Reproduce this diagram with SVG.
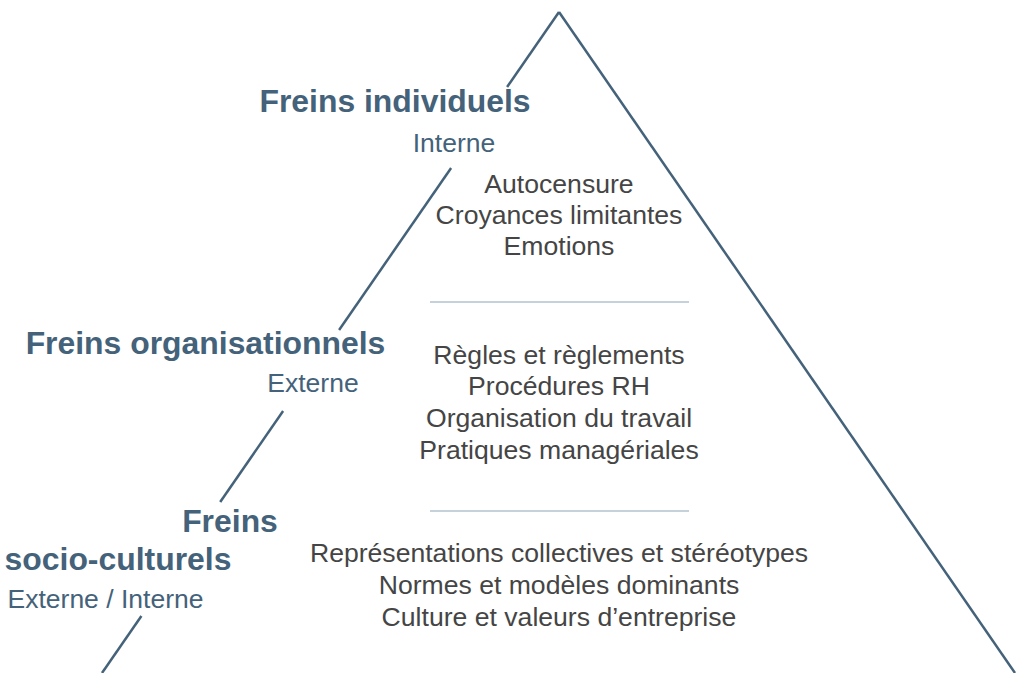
<svg xmlns="http://www.w3.org/2000/svg" width="1016" height="673" viewBox="0 0 1016 673">
<style>
.edge{stroke:#44627a;stroke-width:2.5;fill:none;stroke-linecap:butt}
.div{stroke:#b3c3cf;stroke-width:1.6}
.title{font-family:"Liberation Sans",Arial,sans-serif;font-weight:bold;font-size:31.9px;fill:#44627a}
.sub{font-family:"Liberation Sans",Arial,sans-serif;font-size:26.5px;fill:#44627a}
.item{font-family:"Liberation Sans",Arial,sans-serif;font-size:26.6px;fill:#454545;text-anchor:middle}
</style>
<rect width="1016" height="673" fill="#ffffff"/>
<g id="connectors">
<line class="edge" x1="559" y1="12" x2="1015" y2="673"/>
<line class="edge" x1="559" y1="12" x2="507.1" y2="87"/>
<line class="edge" x1="451.1" y1="168" x2="339.1" y2="330"/>
<line class="edge" x1="283.1" y1="411" x2="220.2" y2="502"/>
<line class="edge" x1="141.4" y1="616" x2="102" y2="673"/>
</g>
<g id="dividers">
<line class="div" x1="430" y1="302" x2="689" y2="302"/>
<line class="div" x1="430" y1="511" x2="689" y2="511"/>
</g>
<g id="freins-individuels">
<text class="title" x="395" y="112" text-anchor="middle">Freins individuels</text>
<text class="sub" x="454" y="152" text-anchor="middle">Interne</text>
<text class="item" x="559" y="193">Autocensure</text>
<text class="item" x="559" y="224">Croyances limitantes</text>
<text class="item" x="559" y="255">Emotions</text>
</g>
<g id="freins-organisationnels">
<text class="title" x="205.5" y="354" text-anchor="middle">Freins organisationnels</text>
<text class="sub" x="313" y="392" text-anchor="middle">Externe</text>
<text class="item" x="559" y="364">Règles et règlements</text>
<text class="item" x="559" y="395">Procédures RH</text>
<text class="item" x="559" y="427">Organisation du travail</text>
<text class="item" x="559" y="459">Pratiques managériales</text>
</g>
<g id="freins-socio-culturels">
<text class="title" x="230" y="531.5" text-anchor="middle">Freins</text>
<text class="title" x="118" y="570" text-anchor="middle">socio-culturels</text>
<text class="sub" x="105.5" y="608" text-anchor="middle">Externe / Interne</text>
<text class="item" x="559" y="562">Représentations collectives et stéréotypes</text>
<text class="item" x="559" y="594">Normes et modèles dominants</text>
<text class="item" x="559" y="626">Culture et valeurs d’entreprise</text>
</g>
</svg>
